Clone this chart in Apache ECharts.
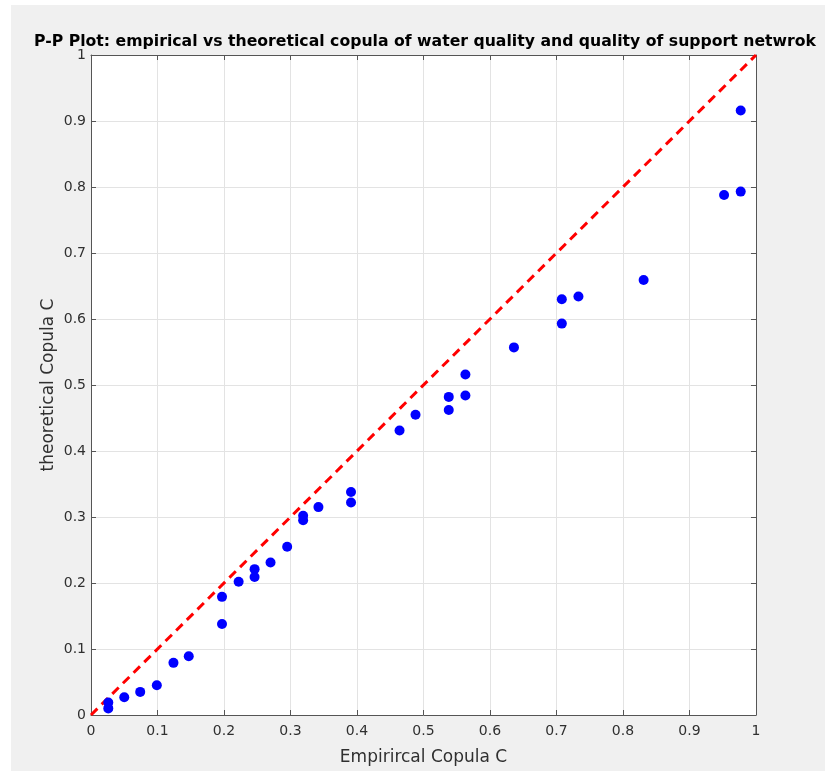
<!DOCTYPE html>
<html>
<head>
<meta charset="utf-8">
<script src="https://cdn.jsdelivr.net/npm/echarts@6/dist/echarts.min.js"></script>
<style>
html,body{margin:0;padding:0;background:#ffffff;width:825px;height:771px;overflow:hidden;}
#wrap{position:absolute;left:11px;top:5px;width:814px;height:766px;background:#f0f0f0;}
#chart{width:814px;height:766px;}
</style>
</head>
<body>
<div id="wrap"><div id="chart"></div></div>
<script>
var titleText = 'P-P Plot: empirical vs theoretical copula of water quality and quality of support netwrok';
var xAxisName = 'Empirircal Copula C';
var yAxisName = 'theoretical Copula C';
var empiricalC = [0.026,0.026,0.050,0.074,0.099,0.124,0.147,0.197,0.197,0.222,0.246,0.246,0.270,0.295,0.319,0.319,0.342,0.391,0.391,0.464,0.488,0.538,0.538,0.563,0.563,0.636,0.708,0.708,0.733,0.831,0.952,0.977,0.977];
var theoreticalC = [0.010,0.019,0.027,0.035,0.045,0.079,0.089,0.179,0.138,0.202,0.209,0.221,0.231,0.255,0.295,0.302,0.315,0.322,0.338,0.431,0.455,0.462,0.482,0.484,0.516,0.557,0.593,0.630,0.634,0.659,0.788,0.793,0.916];
var refLineX = [0, 1];
var refLineY = [0, 1];
var tickLabels = ['0','0.1','0.2','0.3','0.4','0.5','0.6','0.7','0.8','0.9','1'];

var points = empiricalC.map(function(x, i){ return [x, theoreticalC[i]]; });
var refLine = refLineX.map(function(x, i){ return [x, refLineY[i]]; });

var font = 'DejaVu Sans, Liberation Sans, Arial, sans-serif';
var axisCol = '#555555';
var labCol = '#303030';
function fmt(v){ var i = Math.round(v*10); return tickLabels[i] !== undefined ? tickLabels[i] : ''; }

function axisBase(pos, showLabel, isX){
  return {
    type:'value', min:0, max:1, interval:0.1, position:pos,
    axisLine:{show:true, onZero:false, lineStyle:{color:axisCol, width:1}},
    axisTick:{show:true, inside:true, length:5, lineStyle:{color:axisCol}},
    axisLabel:{show:showLabel, color:labCol, fontFamily:font, fontSize:14, margin:isX?9:5, formatter:fmt},
    splitLine:{show:showLabel, lineStyle:{color:'#e3e3e3', width:1}}
  };
}

var xa = axisBase('bottom', true, true);
xa.name = xAxisName; xa.nameLocation='middle'; xa.nameGap=34; xa.nameMoveOverlap=false;
xa.nameTextStyle = {color:labCol, fontFamily:font, fontSize:17};
var ya = axisBase('left', true, false);
ya.name = yAxisName; ya.nameLocation='middle'; ya.nameGap=34; ya.nameMoveOverlap=false;
ya.nameTextStyle = {color:labCol, fontFamily:font, fontSize:17};

var chart = echarts.init(document.getElementById('chart'), null, {renderer:'canvas'});
chart.setOption({
  backgroundColor:'#f0f0f0',
  animation:false,
  title:{text:titleText, left:409, top:24, textAlign:'center',
    textStyle:{fontFamily:'DejaVu Sans, sans-serif', fontSize:15.7, fontWeight:'bold', color:'#000'}},
  grid:{left:80, top:50, width:665, height:664, backgroundColor:'#ffffff', show:true, borderWidth:0},
  xAxis:[xa, axisBase('top', false, true)],
  yAxis:[ya, axisBase('right', false, false)],
  series:[
    {type:'line', data:refLine, showSymbol:false, symbol:'none', silent:true,
     lineStyle:{color:'#ff0000', width:3, type:[9,6]}, z:2},
    {type:'scatter', data:points, symbol:'circle', symbolSize:10,
     itemStyle:{color:'#0000ff', opacity:1}, z:3}
  ]
});
</script>
</body>
</html>
